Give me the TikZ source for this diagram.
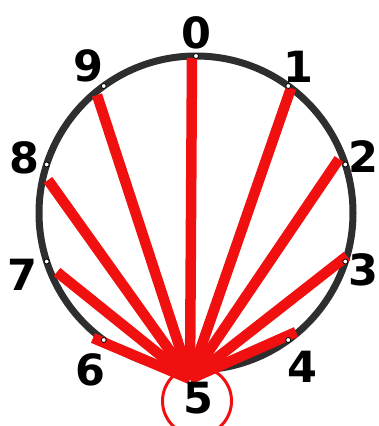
\documentclass[tikz,border=0pt]{standalone}
\usepackage{fontspec}
\setmainfont{DejaVu Sans}
\definecolor{rimgray}{HTML}{2E2E2E}
\definecolor{spoke}{HTML}{F01010}
\begin{document}
\begin{tikzpicture}[x=1pt,y=-1pt,
  rim/.style={draw=rimgray,line width=7pt},
  spokeline/.style={draw=spoke,line width=10.5pt},
  dot/.style={circle,draw=black,fill=white,line width=0.8pt,inner sep=0pt,minimum size=5pt},
  digit/.style={inner sep=0pt,font=\fontsize{43}{43}\selectfont\bfseries},
  ringst/.style={circle,draw=spoke,line width=3pt,inner sep=0pt,minimum size=69pt}]
\useasboundingbox (0,0) rectangle (379,426);
\begin{scope}
\clip (0,0) rectangle (379,426);
\node[ringst] (ring) at (197,401) {};
\node[circle,inner sep=0pt,minimum size=314pt,rim] (rimc) at (196,213) {};
\coordinate (s) at (190,379);
\coordinate (e0) at (192,58);
\coordinate (e1) at (291,88);
\coordinate (e2) at (339,159);
\coordinate (e3) at (347,256);
\coordinate (e4) at (296,332);
\coordinate (e6) at (93,338);
\coordinate (e7) at (57,272);
\coordinate (e8) at (48,180);
\coordinate (e9) at (97,95);
\foreach \k in {0,1,2,3,4,6,7,8,9}{
  \draw[spokeline] (s) -- (e\k);
}
\foreach \k in {0,1,2,3,4,6,7,8,9}{
  \node[dot] (p\k) at ({196+157*sin(36*\k)},{213-157*cos(36*\k)}) {};
}
\node[digit] (l0) at (196,33) {0};
\node[digit] (l1) at (298,67) {1};
\node[digit] (l2) at (363,157) {2};
\node[digit] (l3) at (363,270) {3};
\node[digit] (l4) at (302,367) {4};
\node[digit] (l5) at (198,398) {5};
\node[digit] (l6) at (90,370) {6};
\node[digit] (l7) at (22,275) {7};
\node[digit] (l8) at (24,158) {8};
\node[digit] (l9) at (88,66) {9};
\end{scope}
\end{tikzpicture}
\end{document}
